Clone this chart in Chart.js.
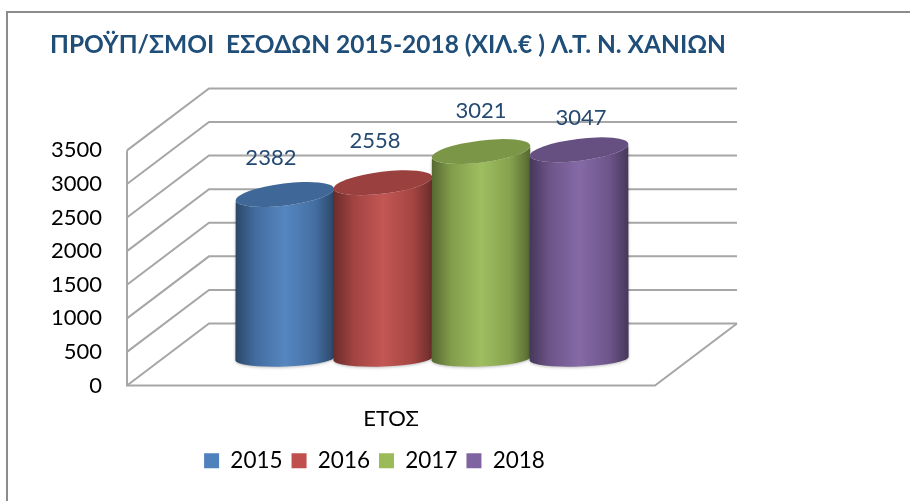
<!DOCTYPE html>
<html><head><meta charset="utf-8">
<style>html,body{margin:0;padding:0;background:#fff}#w{position:relative;width:910px;height:501px}</style>
<script src="https://cdn.jsdelivr.net/npm/chart.js@4"></script>
</head><body><div id="w"><canvas id="c" width="910" height="501"></canvas></div>
<script>
const categories = ['ΕΤΟΣ'];
const years = ['2015','2016','2017','2018'];
const v2015 = [2382];
const v2016 = [2558];
const v2017 = [3021];
const v2018 = [3047];
const yTicks = [0,500,1000,1500,2000,2500,3000,3500];
const colors = ['#4F81BD','#C0504D','#9BBB59','#8064A2'];
const titleText = 'ΠΡΟΫΠ/ΣΜΟΙ  ΕΣΟΔΩΝ 2015-2018 (ΧΙΛ.€ ) Λ.Τ. Ν. ΧΑΝΙΩΝ';
const FONT = 'Lato, "Open Sans", sans-serif';
const DX = 82, DY = -62;
const labelNudge = [[-14,-3],[-8,-7.5],[0,-6.5],[2,2]];

function shade(hex,f){
  const n=parseInt(hex.slice(1),16);
  const c=[n>>16&255,n>>8&255,n&255].map(x=>Math.round(f<1?x*f:x+(255-x)*(f-1)));
  return `rgb(${c[0]},${c[1]},${c[2]})`;
}
const scene = {
  id:'scene',
  afterLayout(ch){
    ch.titleBlock.right = 900;
    ch.legend.left += 22; ch.legend.right += 22;
  },
  beforeDatasetsDraw(ch){
    const g=ch.ctx, y=ch.scales.y, x=ch.scales.x;
    const L=x.left, R=x.right, B=y.getPixelForValue(0);
    g.save();
    g.strokeStyle='#a6a6a6'; g.lineWidth=2; g.lineJoin='miter';
    yTicks.forEach(t=>{
      const p=y.getPixelForValue(t);
      g.beginPath(); g.moveTo(L,p); g.lineTo(L+DX,p+DY); g.lineTo(R+DX,p+DY); g.stroke();
    });
    g.beginPath(); g.moveTo(L,y.getPixelForValue(3500)); g.lineTo(L,B); g.lineTo(R,B); g.lineTo(R+DX,B+DY); g.stroke();
    ch.data.datasets.forEach((ds,i)=>{
      const el=ch.getDatasetMeta(i).data[0];
      const col=ds.backgroundColor;
      const cx=el.x+DX/2, rx=el.width/2+0.5, top=el.y+DY/2, base=el.base+DY/2+4;
      const a1=-7*Math.PI/180, a2=-2*Math.PI/180, ry=11, ry2=8;
      const gr=g.createLinearGradient(cx-rx,0,cx+rx,0);
      gr.addColorStop(0,shade(col,0.55));
      gr.addColorStop(0.2,shade(col,0.84));
      gr.addColorStop(0.5,shade(col,1.04));
      gr.addColorStop(0.8,shade(col,0.86));
      gr.addColorStop(1,shade(col,0.55));
      g.save();
      g.shadowColor='rgba(0,0,0,0.25)'; g.shadowBlur=3; g.shadowOffsetY=1;
      g.fillStyle=gr;
      g.beginPath();
      g.ellipse(cx,base,rx,ry2,a2,0,Math.PI,false);
      g.ellipse(cx,top,rx,ry,a1,Math.PI,0,true);
      g.closePath(); g.fill();
      g.restore();
      g.fillStyle=shade(col,0.8);
      g.beginPath(); g.ellipse(cx,top,rx,ry,a1,0,Math.PI*2); g.fill();
    });
    g.fillStyle='#254a72'; g.font='22px '+FONT; g.textAlign='center'; g.textBaseline='middle';
    ch.data.datasets.forEach((ds,i)=>{
      const el=ch.getDatasetMeta(i).data[0];
      g.fillText(String(ds.data[0]), el.x+DX/2+labelNudge[i][0], el.y+DY/2-34+labelNudge[i][1]);
    });
    g.restore();
    return false;
  },
  beforeDraw(ch){
    const g=ch.ctx;
    g.save(); g.strokeStyle='#8c8c8c'; g.lineWidth=2;
    g.beginPath(); g.moveTo(7,501); g.lineTo(7,12); g.lineTo(910,12); g.stroke();
    g.restore();
  }
};
new Chart(document.getElementById('c'),{
  type:'bar',
  data:{labels:categories,datasets:[
    {label:years[0],data:v2015,backgroundColor:colors[0]},
    {label:years[1],data:v2016,backgroundColor:colors[1]},
    {label:years[2],data:v2017,backgroundColor:colors[2]},
    {label:years[3],data:v2018,backgroundColor:colors[3]}
  ]},
  options:{
    responsive:false,animation:false,
    layout:{padding:{left:50,top:30,right:255,bottom:19}},
    datasets:{bar:{categoryPercentage:0.743,barPercentage:1}},
    plugins:{
      tooltip:{enabled:false},
      title:{display:true,text:titleText,align:'start',color:'#1F4E79',
        font:{family:FONT,size:24.5,weight:'bold'},padding:{top:0,bottom:91}},
      legend:{position:'bottom',align:'center',
        labels:{color:'#000',font:{family:FONT,size:22.5},boxWidth:15,boxHeight:15,padding:9}}
    },
    scales:{
      x:{grid:{display:false},border:{display:false},
        afterFit(s){s.height=55;},
        ticks:{color:'#000',font:{family:FONT,size:22},padding:12,maxRotation:0}},
      y:{min:0,max:3500,grid:{display:false},border:{display:false},
        afterFit(s){s.width=77;},
        afterBuildTicks(s){s.ticks=yTicks.map(v=>({value:v}));},
        ticks:{color:'#000',font:{family:FONT,size:22},padding:17,callback:v=>String(v)}}
    }
  },
  plugins:[scene]
});
</script></body></html>
